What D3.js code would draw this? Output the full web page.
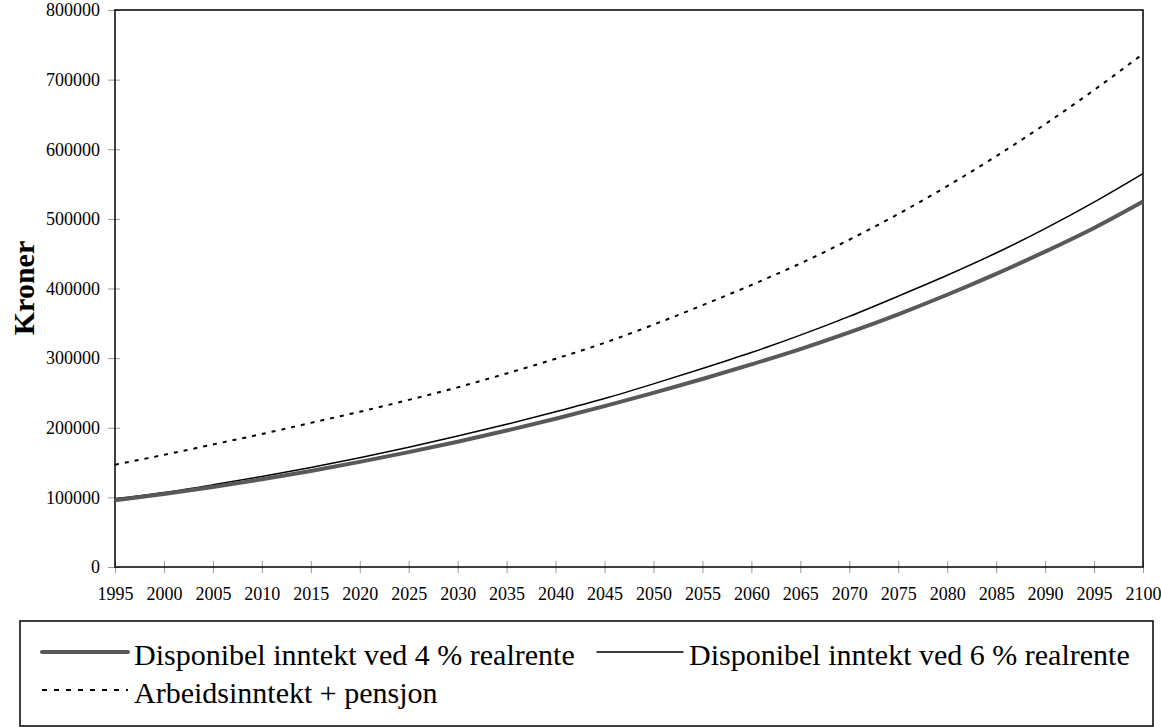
<!DOCTYPE html>
<html><head><meta charset="utf-8">
<script src="https://cdn.jsdelivr.net/npm/d3@7"></script>
<style>body{margin:0;background:#fff}svg{display:block}text{font-family:"Liberation Serif","Times New Roman",Times,serif}</style>
</head><body><svg id="c" width="1161" height="727"></svg>
<script>
const years = [1995,2000,2005,2010,2015,2020,2025,2030,2035,2040,2045,2050,2055,2060,2065,2070,2075,2080,2085,2090,2095,2100];
const rente4 = [96000,105000,115000,126000,138000,151000,165000,180000,196000,213000,231000,250000,270000,291000,313000,337000,363000,391000,421000,453000,487000,525000];
const rente6 = [98000,107000,118000,130000,143000,157000,172000,188000,205000,223000,242000,263000,285000,308000,333000,360000,389000,419000,451000,486000,524000,565000];
const arbeid = [147000,161000,176000,191000,207000,223000,240000,258000,278000,299000,322000,348000,376000,405000,436000,470000,507000,547000,590000,636000,685000,737000];
const yTicks = [0,100000,200000,300000,400000,500000,600000,700000,800000];
const seriesNames = ["Disponibel inntekt ved 4 % realrente","Disponibel inntekt ved 6 % realrente","Arbeidsinntekt + pensjon"];
const yTitle = "Kroner";

const svg = d3.select("#c");
const L=115,R=1143,T=10,B=567;
const x = d3.scaleLinear().domain([1995,2100]).range([L,R]);
const y = d3.scaleLinear().domain([0,800000]).range([B,T]);

const yAx = svg.append("g").attr("transform",`translate(${L},0)`)
  .call(d3.axisLeft(y).tickValues(yTicks).tickFormat(d3.format("d")).tickSize(6).tickPadding(9));
yAx.select(".domain").remove();
yAx.selectAll("line").attr("stroke","#999").attr("x1",5).attr("x2",-7);
yAx.selectAll("text").attr("font-size",18).attr("fill","#000").attr("font-family","Liberation Serif");

const xAx = svg.append("g").attr("transform",`translate(0,${B})`)
  .call(d3.axisBottom(x).tickValues(years).tickFormat(d3.format("d")).tickSize(6).tickPadding(14));
xAx.select(".domain").remove();
xAx.selectAll("line").attr("stroke","#999").attr("y1",-6).attr("y2",6);
xAx.selectAll("text").attr("font-size",18).attr("fill","#000").attr("font-family","Liberation Serif");

svg.append("rect").attr("x",L).attr("y",T).attr("width",R-L).attr("height",B-T)
  .attr("fill","none").attr("stroke","#000").attr("stroke-width",1.5);

const line = d3.line().x((d,i)=>x(years[i])).y(d=>y(d)).curve(d3.curveMonotoneX);
svg.append("path").datum(arbeid).attr("d",line).attr("fill","none").attr("stroke","#000").attr("stroke-width",2).attr("stroke-dasharray","4,6");
svg.append("path").datum(rente6).attr("d",line).attr("fill","none").attr("stroke","#000").attr("stroke-width",1.5);
svg.append("path").datum(rente4).attr("d",line).attr("fill","none").attr("stroke","#595959").attr("stroke-width",4);

svg.append("text").attr("transform","translate(34,288) rotate(-90)").attr("text-anchor","middle")
  .attr("font-size",30).attr("font-weight","bold").text(yTitle);

const lg = svg.append("g");
lg.append("rect").attr("x",20).attr("y",621).attr("width",1133).attr("height",105).attr("fill","none").attr("stroke","#000").attr("stroke-width",1.5);
const items = [
  {x1:42,x2:128,yy:652,ty:665,stroke:"#595959",w:4,dash:null,name:seriesNames[0]},
  {x1:597,x2:683,yy:652,ty:665,stroke:"#000",w:1.5,dash:null,name:seriesNames[1]},
  {x1:42,x2:128,yy:690,ty:703,stroke:"#000",w:2,dash:"5,7",name:seriesNames[2]}
];
items.forEach(it=>{
  lg.append("line").attr("x1",it.x1).attr("x2",it.x2).attr("y1",it.yy).attr("y2",it.yy)
    .attr("stroke",it.stroke).attr("stroke-width",it.w).attr("stroke-dasharray",it.dash).attr("stroke-linecap",it.dash?"butt":"round");
  lg.append("text").attr("x",it.x2+6).attr("y",it.ty).attr("font-size",30).text(it.name);
});
</script></body></html>
